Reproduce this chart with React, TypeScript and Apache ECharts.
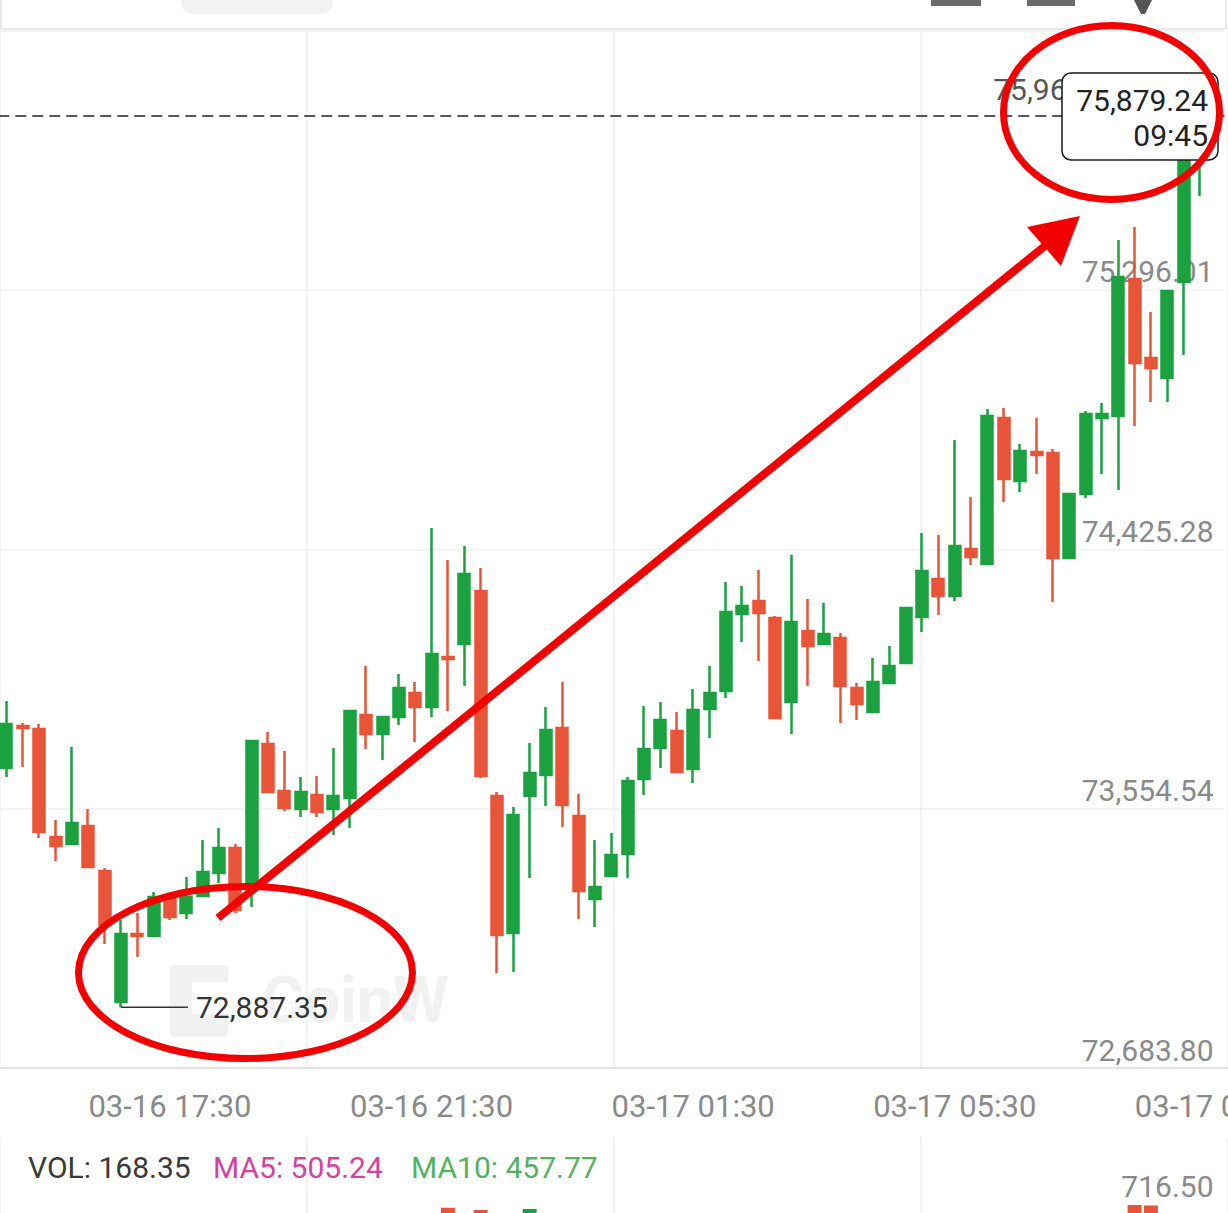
import React, { useEffect, useRef } from 'react';
import * as echarts from 'echarts';

const CATEGORIES = [
  '03-16 15:00', '03-16 15:15', '03-16 15:30', '03-16 15:45', '03-16 16:00', '03-16 16:15', '03-16 16:30', '03-16 16:45',
  '03-16 17:00', '03-16 17:15', '03-16 17:30', '03-16 17:45', '03-16 18:00', '03-16 18:15', '03-16 18:30', '03-16 18:45',
  '03-16 19:00', '03-16 19:15', '03-16 19:30', '03-16 19:45', '03-16 20:00', '03-16 20:15', '03-16 20:30', '03-16 20:45',
  '03-16 21:00', '03-16 21:15', '03-16 21:30', '03-16 21:45', '03-16 22:00', '03-16 22:15', '03-16 22:30', '03-16 22:45',
  '03-16 23:00', '03-16 23:15', '03-16 23:30', '03-16 23:45', '03-17 00:00', '03-17 00:15', '03-17 00:30', '03-17 00:45',
  '03-17 01:00', '03-17 01:15', '03-17 01:30', '03-17 01:45', '03-17 02:00', '03-17 02:15', '03-17 02:30', '03-17 02:45',
  '03-17 03:00', '03-17 03:15', '03-17 03:30', '03-17 03:45', '03-17 04:00', '03-17 04:15', '03-17 04:30', '03-17 04:45',
  '03-17 05:00', '03-17 05:15', '03-17 05:30', '03-17 05:45', '03-17 06:00', '03-17 06:15', '03-17 06:30', '03-17 06:45',
  '03-17 07:00', '03-17 07:15', '03-17 07:30', '03-17 07:45', '03-17 08:00', '03-17 08:15', '03-17 08:30', '03-17 08:45',
  '03-17 09:00', '03-17 09:15', '03-17 09:30',
];

const OPEN = [
  73690.9, 73831.9, 73821.9, 73459.3, 73435.8, 73496.2, 73345.2, 72905.4, 73133.7, 73128.0,
  73254.5, 73204.2, 73261.2, 73338.4, 73422.4, 73291.4, 73771.5, 73613.7, 73553.3, 73600.3,
  73553.3, 73590.2, 73868.9, 73805.1, 73862.1, 73942.7, 73895.7, 74063.6, 74107.2, 74285.1,
  73596.9, 73137.0, 73596.9, 73667.4, 73825.2, 73529.8, 73251.2, 73328.4, 73402.2, 73654.0,
  73758.1, 73815.1, 73687.6, 73889.0, 73949.4, 74207.9, 74251.6, 74194.5, 73912.5, 74150.9,
  74107.2, 74127.4, 73959.5, 73878.9, 73976.3, 74043.4, 74197.9, 74325.4, 74268.4, 74426.1,
  74375.8, 74865.9, 74654.4, 74751.8, 74748.4, 74395.9, 74610.8, 74865.9, 74872.6, 75332.6,
  75067.3, 75000.2, 75322.5, 75849.6,
];

const CLOSE = [
  73838.6, 73825.2, 73476.1, 73429.1, 73506.3, 73358.6, 73163.9, 73133.7, 73126.9, 73257.9,
  73190.7, 73257.9, 73341.8, 73422.4, 73214.2, 73781.6, 73610.4, 73556.6, 73610.4, 73543.2,
  73596.9, 73882.3, 73805.1, 73862.1, 73959.5, 73895.7, 74073.6, 74056.9, 74342.2, 73664.1,
  73130.3, 73533.1, 73674.1, 73818.5, 73566.7, 73278.0, 73291.4, 73398.9, 73647.3, 73754.7,
  73852.1, 73677.5, 73885.6, 73942.7, 74214.6, 74234.8, 74211.3, 73858.8, 74181.1, 74100.5,
  74140.8, 73966.2, 73905.8, 73979.6, 74033.4, 74228.1, 74352.3, 74268.4, 74436.2, 74399.3,
  74872.6, 74661.1, 74755.1, 74741.7, 74395.9, 74610.8, 74879.3, 74879.3, 75339.3, 75050.6,
  75033.8, 75292.3, 75849.6, 75879.24,
];

const LOW = [
  73660.7, 73694.3, 73455.9, 73378.7, 73435.8, 73358.6, 73100.1, 72887.35, 73056.4, 73128.0,
  73180.7, 73184.0, 73261.2, 73304.9, 73204.2, 73224.3, 73610.4, 73546.6, 73526.4, 73526.4,
  73466.0, 73489.5, 73754.7, 73717.8, 73835.3, 73778.2, 73862.1, 73882.3, 73966.2, 73657.4,
  73002.7, 73006.1, 73321.7, 73563.4, 73492.9, 73184.0, 73157.2, 73328.4, 73321.7, 73600.3,
  73690.9, 73677.5, 73640.6, 73791.6, 73925.9, 74113.9, 74050.1, 73858.8, 73805.1, 73966.2,
  74107.2, 73842.0, 73852.1, 73878.9, 73976.3, 74043.4, 74147.5, 74204.6, 74251.6, 74372.4,
  74375.8, 74583.9, 74617.5, 74677.9, 74248.2, 74395.9, 74597.3, 74677.9, 74624.2, 74839.1,
  74919.6, 74919.6, 75077.4, 75611.2,
];

const HIGH = [
  73915.9, 73842.0, 73838.6, 73516.4, 73761.4, 73553.3, 73355.2, 73180.7, 73204.2, 73274.7,
  73257.9, 73325.0, 73449.2, 73489.5, 73435.8, 73781.6, 73811.8, 73748.0, 73660.7, 73664.1,
  73758.1, 73882.3, 74033.4, 73862.1, 74006.5, 73979.6, 74496.6, 74389.2, 74436.2, 74362.4,
  73610.4, 73560.0, 73774.9, 73895.7, 73979.6, 73603.6, 73449.2, 73472.7, 73660.7, 73899.1,
  73912.5, 73878.9, 73956.1, 74033.4, 74315.4, 74301.9, 74355.6, 74201.2, 74406.0, 74258.3,
  74244.9, 74144.1, 73976.3, 74060.2, 74100.5, 74231.4, 74479.8, 74473.1, 74792.1, 74600.7,
  74896.1, 74899.5, 74778.6, 74865.9, 74761.8, 74610.8, 74889.4, 74916.3, 75463.5, 75507.1,
  75221.8, 75292.3, 75899.9, 75967.04,
];

const VOLUME = [
  210, 95, 420, 160, 240, 260, 380, 560, 190, 230,
  120, 140, 180, 210, 260, 640, 330, 170, 150, 130,
  200, 450, 260, 180, 220, 160, 480, 703.6, 590, 692.6,
  660, 620, 697.4, 410, 470, 430, 240, 190, 380, 300,
  260, 220, 330, 210, 450, 180, 250, 390, 420, 200,
  150, 260, 140, 190, 120, 280, 310, 240, 400, 160,
  560, 380, 220, 170, 320, 520, 380, 451.5, 380, 716.5,
  714.0, 312, 615.35, 168.35,
];

const Y_MIN = 72683.8;
const Y_STEP = 870.7375;
const Y_TICK_LABELS = ['72,683.80', '73,554.54', '74,425.28', '75,296.01', '76,166.75'];
const VOL_MAX = 716.5;
const VOL_MAX_LABEL = '716.50';
const LAST_TIME_LABEL = '09:45';

const GREEN = '#1ba140';
const RED = '#e75438';
const ANNOT = '#f20000';
const FONT = 'Roboto, "Noto Sans", "DejaVu Sans", sans-serif';

const fmt = (v: number) =>
  v.toLocaleString('en-US', { minimumFractionDigits: 2, maximumFractionDigits: 2 });

export default function App() {
  const ref = useRef<HTMLDivElement>(null);

  useEffect(() => {
    document.body.style.margin = '0';
    const chart = echarts.init(ref.current!, null, { renderer: 'svg' });

    const candleData = OPEN.map((o, i) => [o, CLOSE[i], LOW[i], HIGH[i]]);
    const volData = VOLUME.map((v, i) => ({
      value: v,
      itemStyle: { color: CLOSE[i] >= OPEN[i] ? GREEN : RED },
    }));
    const n = VOLUME.length;
    const avg = (k: number) => VOLUME.slice(n - k).reduce((a, b) => a + b, 0) / k;
    const lastPrice = CLOSE[CLOSE.length - 1];

    const option: any = {
      animation: false,
      textStyle: { fontFamily: FONT },
      grid: [
        { left: -1.7, top: 30.5, width: 1226.25, height: 1037.5, outerBoundsMode: 'none', containLabel: false },
        { left: 0, top: 30.5, width: 1228, height: 1037.5, outerBoundsMode: 'none', containLabel: false },
        { left: -1.7, top: 1205, width: 1226.25, height: 150, outerBoundsMode: 'none', containLabel: false },
        { left: 0, top: 1137, width: 1228, height: 200, outerBoundsMode: 'none', containLabel: false },
      ],
      xAxis: [
        {
          gridIndex: 0,
          type: 'category',
          data: CATEGORIES,
          boundaryGap: true,
          axisLine: { show: true, lineStyle: { color: '#e2e2e2', width: 2 } },
          axisTick: { show: false },
          splitLine: { show: false },
          axisLabel: {
            interval: (i: number) => i % 16 === 10,
            color: '#8a8a8a',
            fontSize: 31,
            fontFamily: FONT,
            margin: 23,
          },
        },
        {
          gridIndex: 1,
          type: 'value',
          min: 0,
          max: 4,
          interval: 1,
          position: 'top',
          axisLine: { show: true, lineStyle: { color: '#e2e2e2', width: 2 } },
          axisTick: { show: false },
          axisLabel: { show: false },
          splitLine: { show: true, lineStyle: { color: '#efefef', width: 1.5 } },
        },
        {
          gridIndex: 2,
          type: 'category',
          data: CATEGORIES,
          show: false,
        },
        {
          gridIndex: 3,
          type: 'value',
          min: 0,
          max: 4,
          interval: 1,
          position: 'top',
          axisLine: { show: true, lineStyle: { color: '#e2e2e2', width: 2 } },
          axisTick: { show: false },
          axisLabel: { show: false },
          splitLine: { show: true, lineStyle: { color: '#efefef', width: 1.5 } },
        },
      ],
      yAxis: [
        {
          gridIndex: 0,
          type: 'value',
          position: 'right',
          min: Y_MIN,
          max: Y_MIN + 4 * Y_STEP,
          interval: Y_STEP,
          axisLine: { show: false },
          axisTick: { show: false },
          splitLine: { show: true, lineStyle: { color: '#f0f0f0', width: 1.5 } },
          axisLabel: {
            inside: true,
            showMaxLabel: false,
            color: '#8a8a8a',
            fontSize: 30,
            fontFamily: FONT,
            margin: 11,
            verticalAlign: 'bottom',
            padding: [0, 0, 3, 0],
            formatter: (v: number) => Y_TICK_LABELS[Math.round((v - Y_MIN) / Y_STEP)] ?? '',
          },
        },
        { gridIndex: 1, type: 'value', min: 0, max: 1, show: false },
        {
          gridIndex: 2,
          type: 'value',
          position: 'right',
          min: 0,
          max: VOL_MAX,
          interval: VOL_MAX,
          axisLine: { show: false },
          axisTick: { show: false },
          splitLine: { show: false },
          axisLabel: {
            inside: true,
            showMinLabel: false,
            color: '#8a8a8a',
            fontSize: 30,
            fontFamily: FONT,
            margin: 11,
            verticalAlign: 'bottom',
            padding: [0, 0, 4, 0],
            formatter: (v: number) => (v >= VOL_MAX ? VOL_MAX_LABEL : ''),
          },
        },
        { gridIndex: 3, type: 'value', min: 0, max: 1, show: false },
      ],
      series: [
        {
          type: 'candlestick',
          xAxisIndex: 0,
          yAxisIndex: 0,
          data: candleData,
          barWidth: 11.5,
          itemStyle: {
            color: GREEN,
            color0: RED,
            borderColor: GREEN,
            borderColor0: RED,
            borderWidth: 2.5,
          },
          markPoint: {
            silent: true,
            symbol: 'rect',
            symbolSize: [67, 1.5],
            itemStyle: { color: '#333333' },
            label: {
              show: true,
              color: '#333333',
              fontSize: 30,
              fontFamily: FONT,
              formatter: (p: any) => fmt(Number(p.value)),
            },
            data: [
              {
                type: 'min',
                valueDim: 'lowest',
                symbolOffset: [33.5, 0],
                label: { position: 'right', distance: 8 },
              },
              {
                type: 'max',
                valueDim: 'highest',
                symbolOffset: [-33.5, 0],
                label: { position: 'left', distance: 8, color: '#555555' },
              },
            ],
          },
          markLine: {
            silent: true,
            symbol: ['none', 'none'],
            label: { show: false },
            lineStyle: { color: '#222222', type: [11, 6], width: 1.5 },
            data: [{ yAxis: lastPrice }],
          },
        },
        {
          type: 'bar',
          xAxisIndex: 2,
          yAxisIndex: 2,
          data: volData,
          barWidth: 14,
        },
      ],
      graphic: [
        // header remnants
        { type: 'rect', z: 10, shape: { x: 1, y: -6, width: 1225, height: 35 }, style: { fill: 'none', stroke: '#e3e3e3', lineWidth: 1.5 } },
        { type: 'rect', z: 11, shape: { x: 181, y: -12, width: 152, height: 26, r: 12 }, style: { fill: '#f2f2f2' } },
        { type: 'rect', z: 11, shape: { x: 931, y: -6, width: 50, height: 12 }, style: { fill: '#6b6b6b' } },
        { type: 'rect', z: 11, shape: { x: 1027, y: -6, width: 48, height: 12 }, style: { fill: '#6b6b6b' } },
        { type: 'polygon', z: 11, shape: { points: [[1134, 0], [1152, 0], [1145, 14], [1141, 14]] }, style: { fill: '#555555' } },
        // watermark
        {
          type: 'group',
          z: 0,
          children: [
            { type: 'rect', z: 0, shape: { x: 170, y: 965, width: 58, height: 72, r: 4 }, style: { fill: '#f1f1f1' } },
            { type: 'rect', z: 0, shape: { x: 192, y: 982, width: 36, height: 32 }, style: { fill: '#ffffff' } },
            {
              type: 'text', z: 0, x: 262, y: 1000,
              style: { text: 'CoinW', fill: '#f1f1f1', fontSize: 64, fontWeight: 'bold', fontFamily: FONT, verticalAlign: 'middle' },
            },
          ],
        },
        // VOL header
        {
          type: 'text', z: 10, x: 28, y: 1167,
          style: { text: `VOL: ${fmt(VOLUME[n - 1])}`, fill: '#3a3a3a', fontSize: 30, fontFamily: FONT, verticalAlign: 'middle' },
        },
        {
          type: 'text', z: 10, x: 213, y: 1167,
          style: { text: `MA5: ${fmt(avg(5))}`, fill: '#d2439f', fontSize: 30, fontFamily: FONT, verticalAlign: 'middle' },
        },
        {
          type: 'text', z: 10, x: 411, y: 1167,
          style: { text: `MA10: ${fmt(avg(10))}`, fill: '#55b160', fontSize: 30, fontFamily: FONT, verticalAlign: 'middle' },
        },
        // price box
        {
          type: 'rect', z: 100,
          shape: { x: 1062, y: 73, width: 156, height: 87, r: 9 },
          style: { fill: '#ffffff', stroke: '#1a1a1a', lineWidth: 1.5 },
        },
        {
          type: 'text', z: 101, x: 1208, y: 100,
          style: { text: fmt(lastPrice), fill: '#222222', fontSize: 30, fontFamily: FONT, align: 'right', verticalAlign: 'middle' },
        },
        {
          type: 'text', z: 101, x: 1208, y: 135,
          style: { text: LAST_TIME_LABEL, fill: '#222222', fontSize: 30, fontFamily: FONT, align: 'right', verticalAlign: 'middle' },
        },
        // annotations
        {
          type: 'ellipse', z: 110,
          shape: { cx: 245.5, cy: 972.5, rx: 167, ry: 86 },
          style: { fill: 'none', stroke: ANNOT, lineWidth: 7 },
        },
        {
          type: 'ellipse', z: 110,
          shape: { cx: 1111.5, cy: 112.5, rx: 108, ry: 87 },
          style: { fill: 'none', stroke: ANNOT, lineWidth: 7 },
        },
        {
          type: 'line', z: 110,
          shape: { x1: 218, y1: 918, x2: 1046, y2: 245 },
          style: { stroke: ANNOT, lineWidth: 8 },
        },
        {
          type: 'polygon', z: 110,
          shape: { points: [[1027, 227], [1080, 216], [1061, 266]] },
          style: { fill: ANNOT },
        },
      ],
    };

    chart.setOption(option);
    return () => chart.dispose();
  }, []);

  return <div ref={ref} style={{ width: 1228, height: 1213 }} />;
}
